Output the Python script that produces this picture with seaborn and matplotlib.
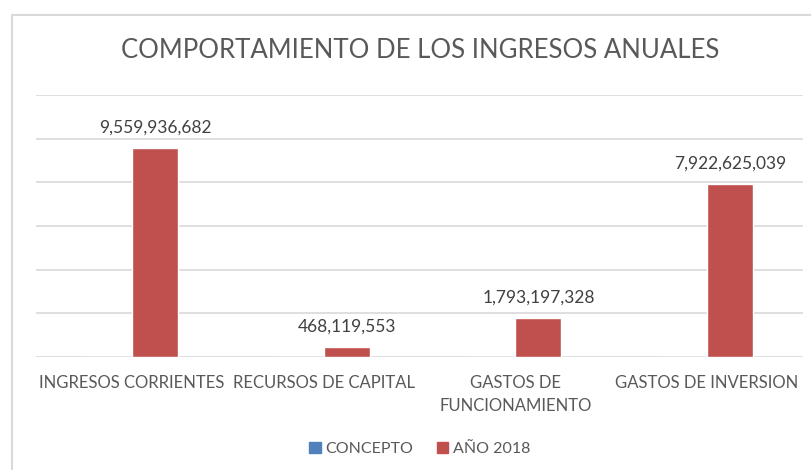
import pandas as pd
import matplotlib.pyplot as plt
import seaborn as sns

# datos del grafico
categorias = ['INGRESOS CORRIENTES', 'RECURSOS DE CAPITAL', 'GASTOS DE\nFUNCIONAMIENTO', 'GASTOS DE INVERSION']
concepto = [0, 0, 0, 0]
anio_2018 = [9559936682, 468119553, 1793197328, 7922625039]
series = ['CONCEPTO', 'AÑO 2018']
colores = ['#4F81BD', '#C0504D']

df = pd.DataFrame({
    'categoria': categorias * 2,
    'serie': [series[0]] * 4 + [series[1]] * 4,
    'valor': concepto + anio_2018,
})

sns.set_style('white')
plt.rcParams['font.family'] = ['Lato', 'DejaVu Sans']

fig = plt.figure(figsize=(8.12, 4.70), dpi=100)
ax = fig.add_axes([36 / 812, 1 - 357 / 470, (803 - 36) / 812, (357 - 95) / 470])

sns.barplot(data=df, x='categoria', y='valor', hue='serie', palette=colores,
            width=0.48, gap=0, ax=ax, legend=False, saturation=1)

ax.set_ylim(0, 12e9)
ax.set_xlim(-0.5, 3.5)
ax.set_yticks(range(0, 12000000001, 2000000000))
ax.set_yticklabels([])
ax.tick_params(axis='y', length=0)
ax.tick_params(axis='x', length=0, pad=13, labelsize=12, labelcolor='#595959')
for t in ax.get_xticklabels():
    t.set_linespacing(1.55)
ax.grid(axis='y', color='#D9D9D9', linewidth=1.2)
ax.set_axisbelow(True)
for s in ax.spines.values():
    s.set_visible(False)
ax.set_xlabel('')
ax.set_ylabel('')

ax.bar_label(ax.containers[1], labels=[f'{v:,}' for v in anio_2018],
             padding=9, fontsize=12.5, color='#404040')

fig.text(420 / 812, 1 - 50 / 470, 'COMPORTAMIENTO DE LOS INGRESOS ANUALES',
         ha='center', va='center', fontsize=18.5, color='#595959')

# leyenda
handles = [plt.Rectangle((0, 0), 1, 1, color=c) for c in colores]
fig.legend(handles, series, loc='center', bbox_to_anchor=(420 / 812, 1 - 449 / 470),
           ncol=2, frameon=False, handlelength=0.7, handleheight=0.7,
           handletextpad=0.3, columnspacing=1.5, fontsize=11.5, labelcolor='#595959')

# marco del area del grafico
fig.add_artist(plt.Line2D([12 / 812, 12 / 812], [0, 1 - 15 / 470], color='#D9D9D9', lw=1.5))
fig.add_artist(plt.Line2D([12 / 812, 1], [1 - 15 / 470, 1 - 15 / 470], color='#D9D9D9', lw=1.5))

fig.savefig('out.png', dpi=100)
